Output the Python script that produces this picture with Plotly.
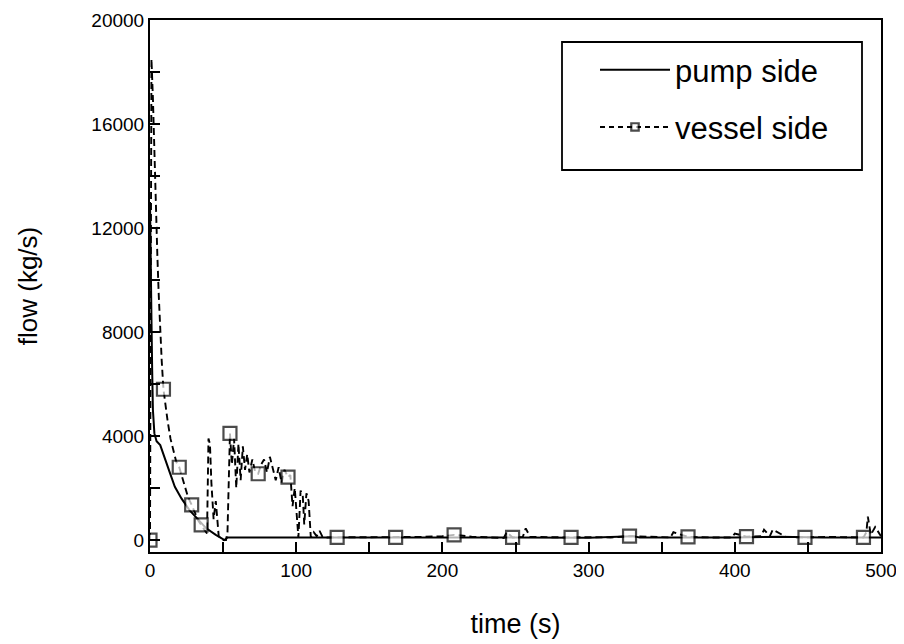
import plotly.graph_objects as go

# ---- data ----
pump_t = [0, 0.5, 1, 1.5, 2, 3, 4.5, 7, 10, 13.5, 17, 21.5, 27, 33, 38.5, 45, 49, 51, 53,
          60, 100, 150, 200, 250, 300, 330, 335, 340, 400, 430, 460, 500]
pump_f = [13000, 11500, 8500, 6500, 5000, 4100, 3800, 3650, 3200, 2600, 2050, 1600, 1150, 770,
          450, 200, 60, 0, 100, 100, 100, 100, 120, 100, 90, 150, 100, 100, 100, 130, 100, 100]

vessel_t = [0, 0.5, 1, 2, 3, 4, 5, 6, 7, 8, 9.2, 10.5, 12, 14, 16, 18, 20, 22, 24, 26, 28.5, 31,
            33, 35, 37, 39, 40, 41, 42, 43.5, 45, 46, 47, 48.5, 50, 52, 53, 54.7, 56, 57.5, 59,
            60.5, 62, 63.5, 65, 66.5, 68, 70, 72, 74, 76, 78, 80, 82, 84, 86, 88, 90, 92, 94.4,
            96, 97.5, 99, 100.5, 101.5, 103, 104.5, 105.5, 107, 108.5, 110, 112, 114, 116, 118,
            121, 128, 140, 155, 168, 185, 200, 208, 220, 235, 242, 244, 248, 255, 257, 260, 275,
            288, 300, 315, 328, 345, 356, 358, 368, 385, 398, 400, 408, 418, 420, 424, 426, 435,
            448, 465, 480, 488, 490, 491, 493, 496, 500]
vessel_f = [0, 9000, 18500, 17000, 14800, 12800, 11000, 9400, 8000, 6900, 5800, 5200, 4600, 3900,
            3400, 3000, 2800, 2400, 2000, 1650, 1350, 1000, 750, 580, 400, 250, 3900, 3700, 2200,
            800, 1500, 900, 150, 50, 0, 0, 300, 4100, 2900, 3900, 2000, 3700, 2300, 3600, 2700,
            3300, 2600, 3100, 2600, 2550, 2900, 3100, 2600, 3200, 2700, 2300, 2800, 2200, 2700,
            2420, 2500, 1300, 2000, 800, 100, 1900, 1700, 600, 1800, 1500, 100, 300, 150, 350,
            120, 100, 100, 100, 110, 100, 120, 150, 200, 130, 100, 80, 300, 100, 120, 450, 120,
            100, 100, 110, 100, 150, 120, 100, 300, 120, 100, 100, 250, 130, 150, 400, 150, 400,
            120, 100, 120, 100, 100, 300, 900, 200, 500, 150]

vessel_marker_t = [0, 9.2, 20, 28.5, 35, 54.7, 74, 94.4, 128, 168, 208, 248, 288, 328, 368,
                   408, 448, 488]

x_ticks = [0, 100, 200, 300, 400, 500]
y_ticks = [0, 4000, 8000, 12000, 16000, 20000]

# ---- marker trace built from the vessel series (gaps so no connecting line) ----
mk_x, mk_y, mk_s = [], [], []
for i, t in enumerate(vessel_marker_t):
    if i > 0:
        mk_x.append(None)
        mk_y.append(None)
        mk_s.append(1.5)
    mk_x.append(t)
    mk_y.append(vessel_f[vessel_t.index(t)])
    mk_s.append(13)

FONT = "Liberation Sans, Arial, sans-serif"

# page body has an 8px default margin -> figure sits at (8, 8)
W, H = 896, 636
L, T, R, B = 142, 12, 23, 92
PX0, PX1 = 8 + L, 8 + W - R
PY0, PY1 = 8 + T, 8 + H - B


def px2paper_x(px):
    return (px - PX0) / (PX1 - PX0)


def px2paper_y(py):
    return 1 - (py - PY0) / (PY1 - PY0)


fig = go.Figure()
fig.add_trace(go.Scatter(x=pump_t, y=pump_f, mode="lines", name="pump side",
                         legendgroup="a",
                         line=dict(color="black", width=2)))
fig.add_trace(go.Scatter(x=vessel_t, y=vessel_f, mode="lines", showlegend=False,
                         legendgroup="b",
                         line=dict(color="black", width=1.9, dash="7px,4px")))
fig.add_trace(go.Scatter(x=mk_x, y=mk_y, mode="lines+markers", name="vessel side",
                         legendgroup="b", connectgaps=False,
                         line=dict(color="black", width=1.9, dash="5px,4px"),
                         marker=dict(symbol="square", size=mk_s, color="white",
                                     line=dict(color="black", width=2.2))))

fig.add_shape(type="rect", xref="paper", yref="paper",
              x0=px2paper_x(562), x1=px2paper_x(862),
              y0=px2paper_y(170), y1=px2paper_y(42),
              line=dict(color="black", width=1.8), fillcolor="rgba(0,0,0,0)")

axis_common = dict(showline=True, linecolor="black", linewidth=2, mirror=True,
                   ticks="inside", ticklen=10, tickwidth=1.8, tickcolor="black",
                   showgrid=False, zeroline=False, automargin=False,
                   tickfont=dict(family=FONT, size=19, color="black"))

fig.update_xaxes(range=[0, 500], tickvals=x_ticks, ticktext=[str(v) for v in x_ticks],
                 minor=dict(dtick=50, ticks="inside", ticklen=10, tickwidth=1.5, tickcolor="black"),
                 title=dict(text="time (s)", font=dict(family=FONT, size=27, color="black"),
                            standoff=34),
                 **axis_common)
fig.update_yaxes(range=[-460, 20000], tickvals=y_ticks, ticktext=[str(v) for v in y_ticks],
                 minor=dict(dtick=2000, ticks="inside", ticklen=10, tickwidth=1.5, tickcolor="black"),
                 title=dict(text="flow (kg/s)", font=dict(family=FONT, size=26, color="black"),
                            standoff=46),
                 **axis_common)

fig.update_layout(
    width=W, height=H,
    margin=dict(l=L, r=R, t=T, b=B, autoexpand=False),
    plot_bgcolor="white", paper_bgcolor="white",
    font=dict(family=FONT, color="black"),
    legend=dict(x=px2paper_x(595), y=px2paper_y(43), xanchor="left", yanchor="top",
                bgcolor="rgba(0,0,0,0)", borderwidth=0,
                font=dict(family=FONT, size=31, color="black"),
                itemwidth=70, traceorder="grouped", tracegroupgap=14),
)

fig.write_html("out.html")
